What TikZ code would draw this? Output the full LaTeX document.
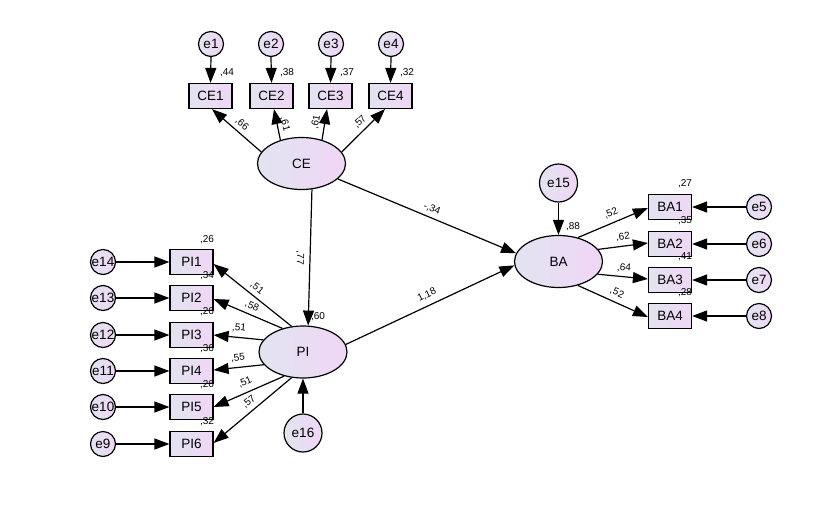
\documentclass[tikz,border=0pt]{standalone}
\usepackage{fontspec}
\setmainfont{Liberation Sans}
\usetikzlibrary{shapes.geometric,arrows.meta,calc}
\definecolor{fillL}{RGB}{226,228,240}
\definecolor{fillR}{RGB}{240,214,246}
\tikzset{
  base/.style={draw=black, line width=1.2pt, left color=fillL, right color=fillR, inner sep=0pt, font=\fontsize{13.5}{14}\selectfont},
  latent/.style={base, ellipse, minimum width=88pt, minimum height=52pt},
  obsbox/.style={base, rectangle, minimum width=43pt, minimum height=25pt},
  errs/.style={base, circle, minimum size=25pt},
  errb/.style={base, circle, minimum size=38pt},
  arr/.style={line width=1.2pt, -{Triangle[length=15pt,width=11pt]}},
  lbl/.style={inner sep=0pt, font=\fontsize{10}{10}\selectfont}
}
\begin{document}
\begin{tikzpicture}[x=1pt,y=-1pt]
\useasboundingbox (0,0) rectangle (816,515);
% latent variables
\node[latent] (CE) at (301.5,163.5) {CE};
\node[latent] (PI) at (303,352) {PI};
\node[latent] (BA) at (558.5,261.5) {BA};
% CE indicators
\node[obsbox] (CE1) at (210.5,96) {CE1};
\node[obsbox] (CE2) at (271.5,96) {CE2};
\node[obsbox] (CE3) at (330.5,96) {CE3};
\node[obsbox] (CE4) at (390.5,96) {CE4};
\node[errs] (e1) at (211,44) {e1};
\node[errs] (e2) at (271,44) {e2};
\node[errs] (e3) at (331,44) {e3};
\node[errs] (e4) at (391,44) {e4};
% PI indicators
\node[obsbox] (PI1) at (191.5,262) {PI1};
\node[obsbox] (PI2) at (191.5,298) {PI2};
\node[obsbox] (PI3) at (191.5,335) {PI3};
\node[obsbox] (PI4) at (191.5,371) {PI4};
\node[obsbox] (PI5) at (191.5,407) {PI5};
\node[obsbox] (PI6) at (191.5,444) {PI6};
\node[errs] (e14) at (103,262) {e14};
\node[errs] (e13) at (103,298) {e13};
\node[errs] (e12) at (103,335) {e12};
\node[errs] (e11) at (103,371) {e11};
\node[errs] (e10) at (103,407) {e10};
\node[errs] (e9) at (103,444) {e9};
% BA indicators
\node[obsbox] (BA1) at (670,207) {BA1};
\node[obsbox] (BA2) at (670,244) {BA2};
\node[obsbox] (BA3) at (670,280) {BA3};
\node[obsbox] (BA4) at (670,316) {BA4};
\node[errs] (e5) at (759,207) {e5};
\node[errs] (e6) at (759,244) {e6};
\node[errs] (e7) at (759,280) {e7};
\node[errs] (e8) at (759,316) {e8};
% disturbances
\node[errb] (e15) at (558.5,183) {e15};
\node[errb] (e16) at (303,433) {e16};

% error arrows
\foreach \e/\v in {e1/CE1,e2/CE2,e3/CE3,e4/CE4}{\draw[arr] (\e.south) -- (\v.north);}
\foreach \e/\v in {e14/PI1,e13/PI2,e12/PI3,e11/PI4,e10/PI5,e9/PI6}{\draw[arr] (\e.east) -- (\v.west);}
\foreach \e/\v in {e5/BA1,e6/BA2,e7/BA3,e8/BA4}{\draw[arr] (\e.west) -- (\v.east);}
\draw[arr] (e15.south) -- (BA.north);
\draw[arr] (e16.north) -- (PI.south);

% CE loadings
\draw[arr] (CE.164) -- ($(CE1.south)+(1.5,0)$);
\draw[arr] (CE.132) -- ($(CE2.south)+(2.5,0)$);
\draw[arr] (CE.49) -- ($(CE3.south)+(-3.5,0)$);
\draw[arr] (CE.16) -- ($(CE4.south)+(-5.5,0)$);
% PI loadings
\draw[arr] (PI.114) -- ($(PI1.east)+(0,2)$);
\draw[arr] (PI.131) -- ($(PI2.east)+(0,1)$);
\draw[arr] (PI.163) -- (PI3.east);
\draw[arr] (PI.-162) -- ($(PI4.east)+(0,-1)$);
\draw[arr] (PI.-128) -- (PI5.east);
\draw[arr] (PI.-114) -- ($(PI6.east)+(0,-1)$);
% BA loadings
\draw[arr] (BA.51) -- ($(BA1.west)+(0,1)$);
\draw[arr] (BA.17) -- ($(BA2.west)+(0,-1)$);
\draw[arr] (BA.-18) -- ($(BA3.west)+(0,-1)$);
\draw[arr] (BA.-51) -- ($(BA4.west)+(0,1)$);
% structural paths
\draw[arr] (CE.-68) -- (PI.79);
\draw[arr] (CE.-23) -- (BA.169);
\draw[arr] (PI.10) -- (BA.-175);

% labels: squared multiple correlations
\node[lbl] (r1) at (227,73) {,44};
\node[lbl] (r2) at (287,73) {,38};
\node[lbl] (r3) at (347,73) {,37};
\node[lbl] (r4) at (407,73) {,32};
\node[lbl] (r14) at (207,240) {,26};
\node[lbl] (r13) at (207,276) {,34};
\node[lbl] (r12) at (207,312) {,26};
\node[lbl] (r11) at (207,349) {,36};
\node[lbl] (r10) at (207,385) {,26};
\node[lbl] (r9) at (207,422) {,32};
\node[lbl] (r5) at (685,184) {,27};
\node[lbl] (r6) at (685,221) {,35};
\node[lbl] (r7) at (685,257) {,41};
\node[lbl] (r8) at (685,293) {,28};
\node[lbl] (rPI) at (318,317) {,60};
\node[lbl] (rBA) at (573,227) {,88};
% labels: loadings
\node[lbl,rotate=-41] (l1) at (242,124) {,66};
\node[lbl,rotate=-76] (l2) at (285,124) {,61};
\node[lbl,rotate=78] (l3) at (316,122) {,61};
\node[lbl,rotate=45] (l4) at (360,122) {,57};
\node[lbl,rotate=-38.6] (l14) at (257,288) {,51};
\node[lbl,rotate=-23] (l13) at (252,306) {,58};
\node[lbl,rotate=-6] (l12) at (239,328) {,51};
\node[lbl,rotate=6] (l11) at (238,358) {,55};
\node[lbl,rotate=24] (l10) at (245,382) {,51};
\node[lbl,rotate=40] (l9) at (249,402) {,57};
\node[lbl,rotate=22.5] (l5) at (611,213) {,52};
\node[lbl,rotate=7] (l6) at (623,237) {,62};
\node[lbl,rotate=-5] (l7) at (624,268) {,64};
\node[lbl,rotate=-24] (l8) at (617,293) {,52};
% labels: structural
\node[lbl,rotate=-92] (s1) at (300,258) {,77};
\node[lbl,rotate=-22.7] (s2) at (432,209) {-,34};
\node[lbl,rotate=25.5] (s3) at (427,295) {1,18};
\end{tikzpicture}
\end{document}
